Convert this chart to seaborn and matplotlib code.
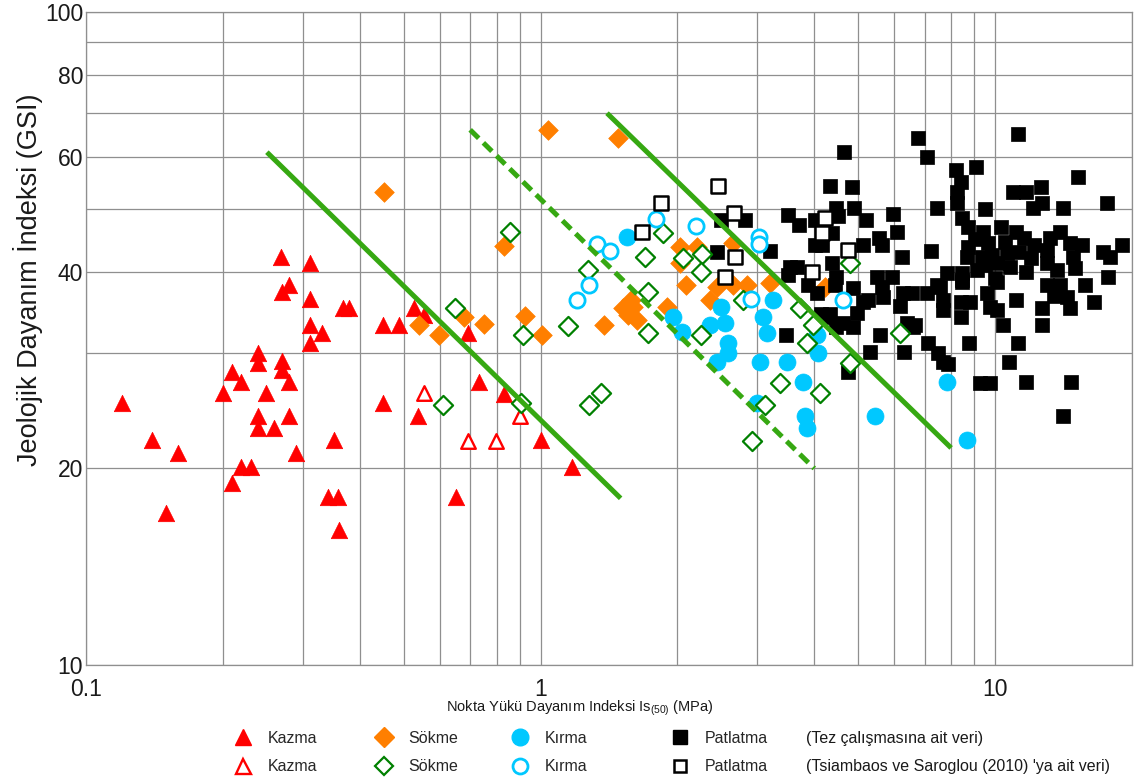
import numpy as np
import pandas as pd
import seaborn as sns
import matplotlib.pyplot as plt
from matplotlib.lines import Line2D
from matplotlib.ticker import FixedLocator, NullFormatter, FixedFormatter

# ---------------------------------------------------------------
# Point load strength index Is(50) (MPa) and GSI values per excavation class
# ---------------------------------------------------------------
# Kazma (this study)
kazma_x = [0.268, 0.311, 0.279, 0.270, 0.311, 0.367, 0.379, 0.311, 0.330, 0.311,
           0.450, 0.488, 0.526, 0.553, 0.691, 0.731, 0.239, 0.239, 0.270, 0.270,
           0.210, 0.219, 0.279, 0.200, 0.249, 0.120, 0.450, 0.239, 0.279, 0.239,
           0.259, 0.537, 0.140, 0.159, 0.351, 0.290, 0.219, 0.231, 0.210, 0.340,
           0.358, 0.650, 0.150, 0.360, 0.829, 1.00, 1.17]
kazma_y = [42.2, 41.3, 38.2, 37.3, 36.4, 35.2, 35.2, 33.2, 32.2, 31.1,
           33.2, 33.2, 35.2, 34.4, 32.2, 27.1, 30.0, 29.0, 29.2, 28.3,
           28.1, 27.1, 27.1, 26.1, 26.1, 25.2, 25.2, 24.1, 24.1, 23.1,
           23.1, 24.1, 22.1, 21.1, 22.1, 21.1, 20.1, 20.1, 19.0, 18.1,
           18.1, 18.1, 17.1, 16.1, 26.0, 22.1, 20.1]

# Sokme (this study)
sokme_x = [0.452, 1.04, 1.48, 0.829, 0.539, 0.597, 0.677, 0.749, 0.922, 1.005,
           1.376, 1.52, 1.60, 1.56, 1.63, 1.90, 1.58, 2.09, 2.03, 2.21,
           2.03, 2.65, 2.45, 2.65, 2.85, 3.20, 2.36, 4.23]
sokme_y = [53.0, 65.9, 64.1, 43.8, 33.2, 32.0, 34.1, 33.3, 34.2, 32.0,
           33.2, 35.2, 35.3, 34.4, 33.8, 35.3, 36.2, 38.2, 43.7, 43.7,
           41.3, 44.3, 37.9, 38.2, 38.2, 38.5, 36.2, 37.9]

# Kirma (this study)
kirma_x = [1.55, 1.96, 2.05, 2.36, 2.49, 2.55, 2.59, 2.58, 2.45, 3.24,
           3.09, 3.15, 3.04, 3.49, 4.08, 4.06, 3.77, 3.00, 3.82, 3.86,
           5.45, 7.85, 8.68]
kirma_y = [45.2, 34.1, 32.4, 33.2, 35.3, 33.4, 31.1, 30.0, 29.1, 36.2,
           34.1, 32.2, 29.1, 29.1, 30.0, 32.0, 27.1, 25.2, 24.1, 23.1,
           24.1, 27.1, 22.1]

# Patlatma (this study)
patlatma_x = [2.45, 2.49, 2.82, 3.19, 3.46, 3.51, 3.70, 4.02, 4.02, 4.15,
              4.34, 4.38, 4.47, 4.50, 4.64, 4.85, 4.89, 5.19, 5.12, 5.54,
              5.63, 5.97, 6.08, 6.24, 3.54, 3.67, 3.51, 3.87, 4.06, 4.38,
              4.47, 4.45, 4.87, 5.50, 5.92, 6.27, 5.63, 4.13, 4.34, 4.63,
              4.97, 5.12, 5.66, 6.18, 6.40, 5.26, 4.87, 4.47, 4.27, 5.59,
              5.31, 6.31, 4.74, 6.60, 7.12, 7.49, 7.68, 7.87, 8.77, 6.77,
              7.07, 7.43, 7.23, 7.43, 7.07, 6.56, 7.57, 7.68, 7.68, 8.43,
              8.81, 8.43, 8.47, 6.67, 11.2, 8.21, 9.07, 8.43, 8.24, 8.24,
              9.51, 10.97, 11.7, 12.6, 12.7, 12.1, 14.1, 15.2, 17.6, 8.47,
              8.72, 9.41, 10.3, 11.1, 11.6, 8.72, 9.63, 8.67, 9.36, 9.83,
              10.6, 10.1, 10.8, 11.7, 13.2, 13.9, 13.0, 14.6, 15.5, 14.8,
              17.3, 17.9, 19.0, 13.0, 13.7, 17.7, 8.47, 9.12, 7.83, 8.47,
              10.0, 13.0, 13.9, 15.8, 9.59, 9.75, 10.1, 10.1, 11.1, 14.4,
              14.6, 12.7, 16.5, 10.4, 12.7, 11.2, 10.7, 9.27, 9.75, 11.7,
              14.7, 14.1, 9.04, 9.51, 11.3, 12.2, 10.5, 12.0, 15.0, 13.5]
patlatma_y = [42.9, 48.0, 48.0, 43.0, 32.0, 48.9, 47.2, 48.0, 44.0, 44.0,
              54.2, 45.8, 50.1, 48.7, 61.1, 54.0, 50.1, 48.0, 44.0, 45.1,
              44.0, 49.0, 46.0, 42.2, 40.7, 40.7, 39.6, 38.2, 37.1, 41.3,
              39.3, 38.2, 37.8, 39.3, 39.3, 37.1, 37.9, 34.5, 34.5, 33.4,
              34.6, 36.0, 36.6, 35.5, 33.4, 36.2, 32.9, 32.9, 34.1, 32.0,
              30.1, 30.1, 28.1, 32.9, 31.1, 30.0, 29.1, 28.9, 31.1, 64.1,
              60.0, 50.1, 43.0, 38.2, 37.1, 37.1, 37.9, 36.2, 35.0, 36.0,
              36.0, 34.1, 38.6, 33.2, 65.1, 57.3, 57.9, 54.9, 53.0, 51.0,
              50.0, 53.0, 53.0, 54.0, 51.0, 50.1, 50.1, 55.9, 51.0, 48.4,
              46.9, 46.0, 46.9, 46.0, 45.1, 43.7, 44.3, 42.2, 42.2, 42.5,
              42.8, 41.3, 40.7, 40.0, 45.1, 46.0, 43.2, 44.3, 44.0, 42.2,
              42.9, 42.2, 44.0, 41.3, 40.3, 39.3, 39.8, 40.3, 39.8, 38.9,
              39.1, 38.2, 38.2, 38.2, 37.1, 35.4, 35.0, 38.6, 36.2, 36.6,
              35.2, 35.2, 36.0, 33.2, 33.2, 31.1, 29.1, 27.0, 27.0, 27.1,
              27.1, 24.1, 44.9, 41.0, 42.9, 44.0, 44.5, 42.0, 40.5, 36.8]

# Tsiambaos & Saroglou (2010)
kazma_ts_x = [0.553, 0.899, 0.691, 0.796]
kazma_ts_y = [26.1, 24.1, 22.0, 22.0]

sokme_ts_x = [0.647, 0.855, 0.913, 1.15, 1.27, 1.72, 1.70, 1.86, 2.06, 2.27,
              2.25, 1.72, 2.25, 0.609, 0.904, 1.28, 1.36, 3.37, 3.12, 2.92,
              2.79, 3.73, 3.98, 3.86, 4.80, 6.18, 4.80, 4.12]
sokme_ts_y = [35.2, 46.0, 32.0, 33.1, 40.3, 37.3, 42.2, 45.9, 42.0, 42.6,
              40.0, 32.2, 32.0, 25.0, 25.2, 25.0, 26.1, 27.0, 25.0, 22.0,
              36.2, 35.2, 33.2, 31.1, 41.3, 32.2, 29.0, 26.1]

kirma_ts_x = [1.33, 1.42, 1.28, 1.20, 1.79, 2.20, 3.03, 3.03, 2.91, 4.63]
kirma_ts_y = [44.1, 43.1, 38.2, 36.2, 48.2, 47.0, 45.2, 44.1, 36.3, 36.2]

patlatma_ts_x = [2.46, 1.84, 1.67, 2.67, 2.68, 2.55, 4.23, 4.17, 4.75, 3.96]
patlatma_ts_y = [54.1, 51.0, 46.0, 49.2, 42.2, 39.3, 48.4, 45.9, 43.2, 40.0]

# Class boundary lines (end points)
sinir1_x, sinir1_y = [0.25, 1.5], [61.0, 18.0]
sinir2_x, sinir2_y = [0.7, 4.0], [66.0, 20.0]
sinir3_x, sinir3_y = [1.4, 8.0], [70.0, 21.5]

legend_labels = ["Kazma", "Sökme", "Kırma", "Patlatma"]
source_notes = ["(Tez çalışmasına ait veri)",
                "(Tsiambaos ve Saroglou (2010) 'ya ait veri)"]

# ---------------------------------------------------------------
sns.set_style("white")
plt.rcParams['font.family'] = ['Liberation Sans', 'DejaVu Sans']
plt.rcParams['mathtext.fontset'] = 'custom'
plt.rcParams['mathtext.rm'] = 'Liberation Sans'
plt.rcParams['mathtext.it'] = 'Liberation Sans:italic'

RED = "#ff0000"
ORANGE = "#ff7f00"
GREEN_D = "#008000"
CYAN = "#00c8ff"
BLACK = "#000000"
LINE_G = "#36a812"
GRID = "#8f8f8f"

fig = plt.figure(figsize=(11.36, 7.84), dpi=100)
ax = fig.add_axes([86 / 1136, 1 - 665 / 784, 1046 / 1136, 653 / 784])
ax.set_xscale("log")
ax.set_yscale("log")


def draw(x, y, marker, s, face, edge, lw, z):
    sns.scatterplot(x=x, y=y, ax=ax, marker=marker, s=s, color=face,
                    edgecolor=edge, linewidth=lw, zorder=z, legend=False)


# filled series
draw(kazma_x, kazma_y, "^", 140, RED, RED, 0.5, 3)
draw(sokme_x, sokme_y, "D", 100, ORANGE, ORANGE, 0.5, 4)
draw(kirma_x, kirma_y, "o", 150, CYAN, CYAN, 0.5, 5)
draw(patlatma_x, patlatma_y, "s", 88, BLACK, BLACK, 0.5, 6)
# open series
draw(kazma_ts_x, kazma_ts_y, "^", 110, "white", RED, 1.7, 7)
draw(sokme_ts_x, sokme_ts_y, "D", 95, "white", GREEN_D, 1.6, 7)
draw(kirma_ts_x, kirma_ts_y, "o", 120, "white", CYAN, 2.0, 7)
draw(patlatma_ts_x, patlatma_ts_y, "s", 90, "white", BLACK, 1.8, 7)

# boundary lines
ax.plot(sinir1_x, sinir1_y, color=LINE_G, lw=3.6, solid_capstyle="butt", zorder=9)
ax.plot(sinir2_x, sinir2_y, color=LINE_G, lw=3.6, dashes=(2.4, 1.3), zorder=9)
ax.plot(sinir3_x, sinir3_y, color=LINE_G, lw=3.6, solid_capstyle="butt", zorder=9)

ax.set_xlim(0.1, 20)
ax.set_ylim(10, 100)

# ticks and grid
ax.xaxis.set_major_locator(FixedLocator([0.1, 1, 10]))
ax.xaxis.set_major_formatter(FixedFormatter(["0.1", "1", "10"]))
ax.xaxis.set_minor_locator(FixedLocator([0.2, 0.3, 0.4, 0.5, 0.6, 0.7, 0.8, 0.9,
                                         2, 3, 4, 5, 6, 7, 8, 9, 20]))
ax.xaxis.set_minor_formatter(NullFormatter())
ax.yaxis.set_major_locator(FixedLocator([10, 20, 40, 60, 80, 100]))
ax.yaxis.set_major_formatter(FixedFormatter(["10", "20", "40", "60", "80", "100"]))
ax.yaxis.set_minor_locator(FixedLocator([30, 50, 70, 90]))
ax.yaxis.set_minor_formatter(NullFormatter())

ax.grid(True, which="both", color=GRID, lw=0.9)
ax.set_axisbelow(True)
ax.tick_params(which="both", length=0)
ax.tick_params(axis="y", labelsize=16.5, pad=2, labelcolor="#1a1a1a")
ax.tick_params(axis="x", labelsize=16.5, pad=9, labelcolor="#1a1a1a")
for sp in ax.spines.values():
    sp.set_color(GRID)
    sp.set_linewidth(0.9)

ax.set_xlabel(r"Nokta Yükü Dayanım Indeksi Is$_{\mathrm{(50)}}$ (MPa)",
              fontsize=10.5, color="#1a1a1a", va="center")
ax.xaxis.set_label_coords(0.472, -0.066)
ax.set_ylabel("Jeolojik Dayanım İndeksi (GSI)", fontsize=19.5,
              color="#1a1a1a", va="center")
ax.yaxis.set_label_coords(-0.055, 0.59)

# legend: one column per excavation class, upper row this study, lower row 2010 data
specs = [("^", RED, 12, 1.7), ("D", ORANGE, 10, 1.6),
         ("o", CYAN, 12, 2.0), ("s", BLACK, 9.5, 1.8)]
open_edge = [RED, GREEN_D, CYAN, BLACK]
col_x = [243, 384, 520, 680]
for (mk, col, ms, elw), ec, lab, cx in zip(specs, open_edge, legend_labels, col_x):
    h_fill = Line2D([], [], linestyle="None", marker=mk, markersize=ms,
                    markerfacecolor=col, markeredgecolor=col)
    h_open = Line2D([], [], linestyle="None", marker=mk, markersize=ms * 0.9,
                    markerfacecolor="white", markeredgecolor=ec,
                    markeredgewidth=elw)
    fig.legend([h_fill, h_open], [lab, lab], loc="center left",
               bbox_to_anchor=((cx - 8) / 1136, 1 - 752.5 / 784),
               frameon=False, fontsize=11.5, handlelength=1.0,
               handletextpad=1.05, borderpad=0, borderaxespad=0,
               labelspacing=0.85)

fig.text(806 / 1136, 1 - 738 / 784, source_notes[0], fontsize=11.5,
         va="center", ha="left", color="#1a1a1a")
fig.text(806 / 1136, 1 - 767 / 784, source_notes[1], fontsize=11.5,
         va="center", ha="left", color="#1a1a1a")

fig.savefig("out.png", dpi=100, facecolor="white")
